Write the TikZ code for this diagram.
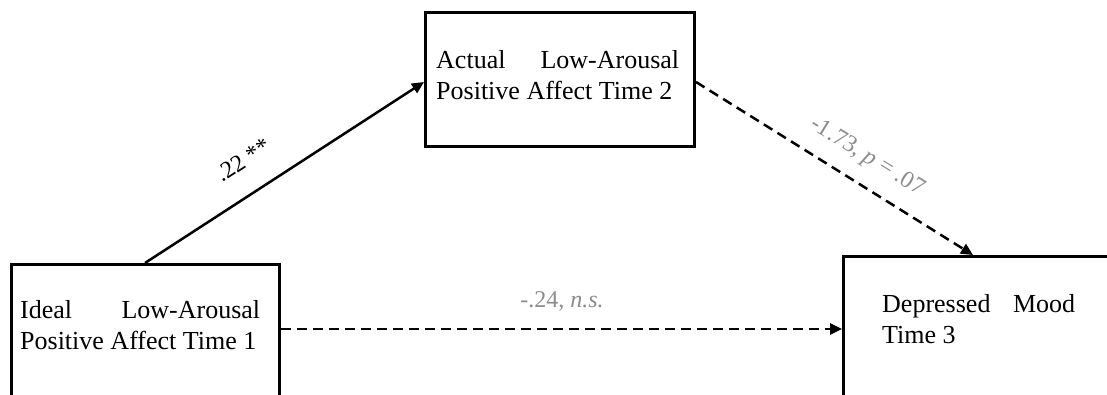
\documentclass[tikz,border=0pt]{standalone}
\usepackage{fontspec}
\setmainfont{Liberation Serif}
\usetikzlibrary{arrows.meta}
\definecolor{labgray}{RGB}{140,140,140}
\tikzset{
  box/.style={draw=black, line width=3pt, rectangle, inner sep=0pt, anchor=north west},
  boxtext/.style={anchor=north west, inner sep=0pt, align=left, font=\fontsize{26}{31.5}\selectfont},
  conn/.style={line width=2.5pt, -{Triangle[length=12pt,width=11pt]}},
  dashconn/.style={conn, dash pattern=on 10pt off 6pt},
  lab/.style={text=labgray, inner sep=0pt, font=\fontsize{24}{28}\selectfont},
  labblack/.style={text=black, inner sep=0pt, font=\fontsize{24}{28}\selectfont}
}
\begin{document}
\begin{tikzpicture}[x=1pt,y=1pt]
\useasboundingbox (0,0) rectangle (1107,395);
% boxes
\node[box, minimum width=268pt, minimum height=170pt] (L) at (10,132) {};
\node[box, minimum width=269pt, minimum height=134pt] (T) at (424,384) {};
\node[box, minimum width=300pt, minimum height=200pt] (R) at (842,140) {};
% texts
\node[boxtext] (Lt) at (20,95) {\makebox[240pt][s]{Ideal\hfill Low-Arousal}\\Positive Affect Time 1};
\node[boxtext] (Tt) at (436,345) {\makebox[243pt][s]{Actual\hfill Low-Arousal}\\Positive Affect Time 2};
\node[boxtext] (Rt) at (882,101) {\makebox[193pt][s]{Depressed\hfill Mood}\\Time 3};
% connectors
\draw[conn] ([xshift=135pt]L.north west) -- ([yshift=-71pt]T.north west);
\draw[dashconn] ([yshift=-71pt]T.north east) -- ([xshift=131pt]R.north west);
\draw[dashconn] ([yshift=-66pt]L.north east) -- ([yshift=-74pt]R.north west);
% labels
\node[labblack, rotate=33] (l1) at (243,235) {.22 **};
\node[lab, rotate=-31.7] (l2) at (867,238) {-1.73, \textit{p} = .07};
\node[lab, anchor=base] (l3) at (562,87) {-.24, \textit{n.s.}};
\end{tikzpicture}
\end{document}
